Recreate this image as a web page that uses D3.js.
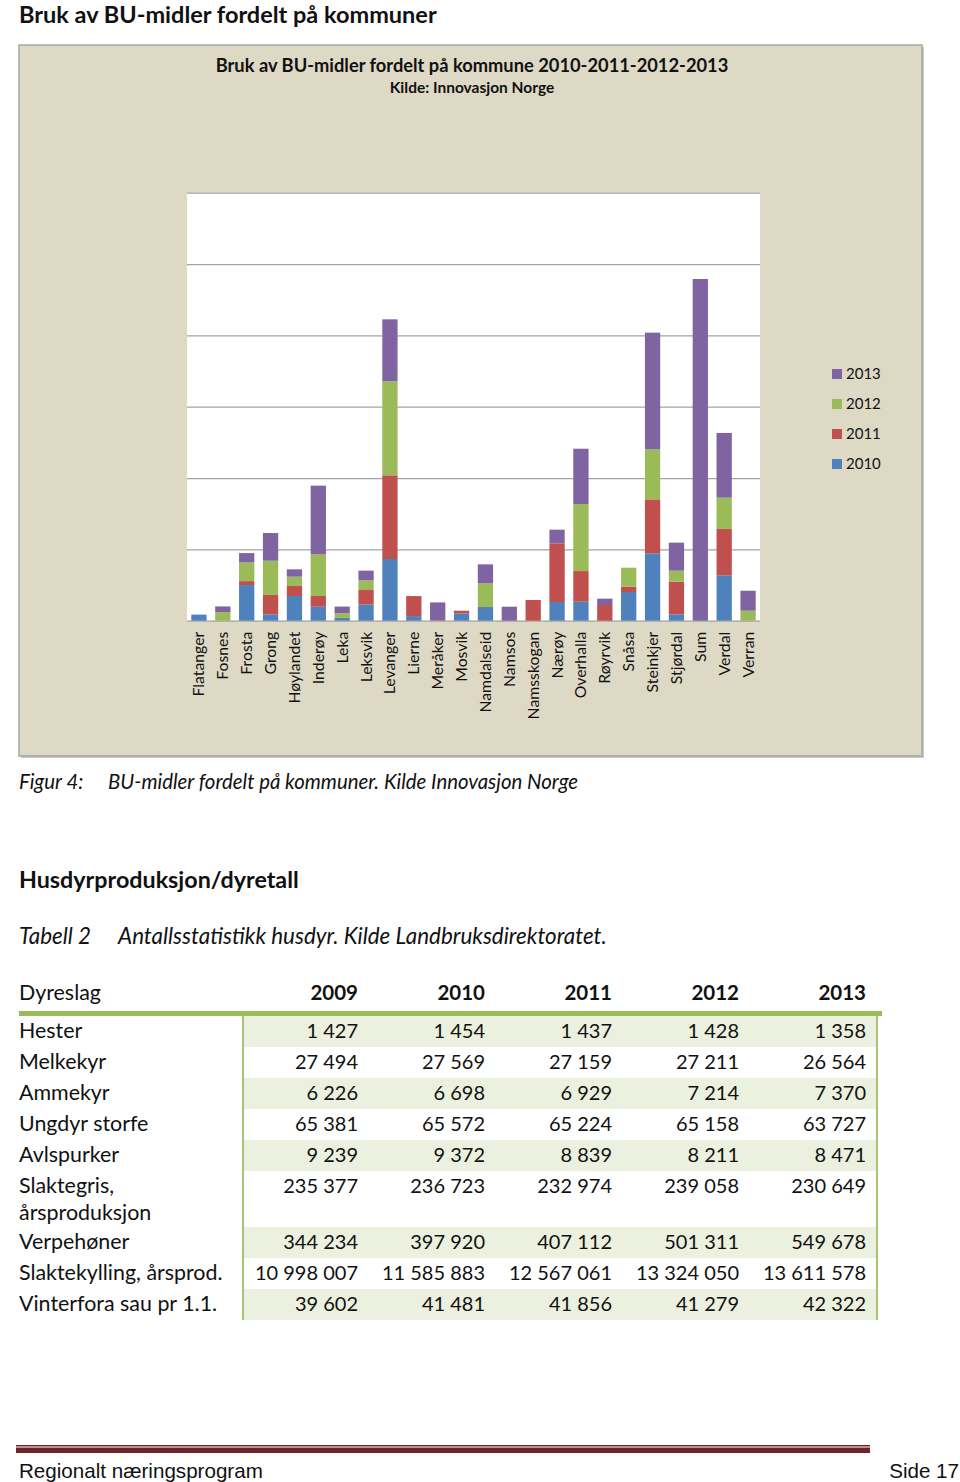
<!DOCTYPE html>
<html>
<head>
<meta charset="utf-8">
<script src="https://cdn.jsdelivr.net/npm/d3@7"></script>
<style>
  html, body { margin: 0; padding: 0; background: #fff; }
  svg { display: block; }
</style>
</head>
<body>
<div id="page"></div>
<script>
// ---------- Chart data (BU-midler, relative units) ----------
const kommuner = ["Flatanger","Fosnes","Frosta","Grong","Høylandet","Inderøy","Leka","Leksvik","Levanger","Lierne","Meråker","Mosvik","Namdalseid","Namsos","Namsskogan","Nærøy","Overhalla","Røyrvik","Snåsa","Steinkjer","Stjørdal","Sum","Verdal","Verran"];
const years = ["2010","2011","2012","2013"];
const v2010 = [85, 0, 500, 89, 346, 196, 40, 229, 865, 65, 0, 103, 192, 0, 0, 262, 266, 0, 402, 944, 89, 0, 636, 0];
const v2011 = [0, 0, 55, 271, 140, 150, 0, 201, 1173, 280, 6, 37, 0, 0, 290, 822, 430, 220, 75, 757, 458, 0, 650, 0];
const v2012 = [0, 120, 262, 481, 131, 584, 65, 136, 1318, 0, 0, 0, 332, 0, 0, 0, 939, 0, 266, 701, 154, 0, 439, 140];
const v2013 = [0, 80, 131, 388, 103, 963, 93, 136, 869, 0, 250, 0, 266, 196, 0, 192, 776, 89, 0, 1636, 393, 4790, 907, 280];
const yTicks = [0, 1000, 2000, 3000, 4000, 5000, 6000];
const seriesColors = ["#4f81bd", "#c0504d", "#9bbb59", "#8064a2"];

// ---------- Table data ----------
const tableYears = ["2009","2010","2011","2012","2013"];
const dyreslag = ["Hester","Melkekyr","Ammekyr","Ungdyr storfe","Avlspurker","Slaktegris,\nårsproduksjon","Verpehøner","Slaktekylling, årsprod.","Vinterfora sau pr 1.1."];
const t2009 = [1427, 27494, 6226, 65381, 9239, 235377, 344234, 10998007, 39602];
const t2010 = [1454, 27569, 6698, 65572, 9372, 236723, 397920, 11585883, 41481];
const t2011 = [1437, 27159, 6929, 65224, 8839, 232974, 407112, 12567061, 41856];
const t2012 = [1428, 27211, 7214, 65158, 8211, 239058, 501311, 13324050, 41279];
const t2013 = [1358, 26564, 7370, 63727, 8471, 230649, 549678, 13611578, 42322];

const W = 960, H = 1482;
const FONT = "Lato, 'Open Sans', sans-serif";

const svg = d3.select("#page").append("svg")
  .attr("width", W).attr("height", H)
  .attr("viewBox", `0 0 ${W} ${H}`)
  .style("font-family", FONT);

svg.append("rect").attr("width", W).attr("height", H).attr("fill", "#fff");

// Page heading
svg.append("text").attr("x", 19).attr("y", 23)
  .attr("font-size", 23.5).attr("font-weight", 700).attr("fill", "#111")
  .text("Bruk av BU-midler fordelt på kommuner");

// ---------- Chart frame ----------
const frame = {x: 19, y: 45, w: 903, h: 711};
svg.append("rect").attr("x", frame.x + 2).attr("y", frame.y + 2)
  .attr("width", frame.w).attr("height", frame.h).attr("fill", "#c9c9c9");
svg.append("rect").attr("x", frame.x).attr("y", frame.y)
  .attr("width", frame.w).attr("height", frame.h)
  .attr("fill", "#ddd9c4").attr("stroke", "#a6a6a6").attr("stroke-width", 1.5);

svg.append("text").attr("x", 472).attr("y", 72).attr("text-anchor", "middle")
  .attr("font-size", 18.3).attr("font-weight", 700).attr("fill", "#111")
  .text("Bruk av BU-midler fordelt på kommune 2010-2011-2012-2013");
svg.append("text").attr("x", 472).attr("y", 93).attr("text-anchor", "middle")
  .attr("font-size", 15.5).attr("font-weight", 700).attr("fill", "#111")
  .text("Kilde: Innovasjon Norge");

// plot area
const plot = {left: 187, right: 760, top: 192.7, bottom: 620.7};
svg.append("rect").attr("x", plot.left).attr("y", plot.top)
  .attr("width", plot.right - plot.left).attr("height", plot.bottom - plot.top)
  .attr("fill", "#fff");

const x = d3.scaleBand().domain(kommuner).range([plot.left, plot.right])
  .paddingInner(0.36).paddingOuter(0.18);
const y = d3.scaleLinear().domain([0, 6000]).range([plot.bottom, plot.top]);

// gridlines via axis
const gridAxis = d3.axisLeft(y).tickValues(yTicks).tickSize(-(plot.right - plot.left)).tickFormat("");
const g = svg.append("g").attr("transform", `translate(${plot.left},0)`).call(gridAxis);
g.select(".domain").remove();
g.selectAll(".tick line").attr("stroke", "#a3a3a3").attr("stroke-width", 1.3);

// stacked bars
const rows = kommuner.map((k, i) => ({k, "2010": v2010[i], "2011": v2011[i], "2012": v2012[i], "2013": v2013[i]}));
const stack = d3.stack().keys(years)(rows);
svg.append("g").selectAll("g").data(stack).join("g")
  .attr("fill", (d, i) => seriesColors[i])
  .selectAll("rect").data(d => d).join("rect")
  .attr("x", d => x(d.data.k))
  .attr("width", x.bandwidth())
  .attr("y", d => y(d[1]))
  .attr("height", d => Math.max(0, y(d[0]) - y(d[1])));

// category axis
const xAxis = d3.axisBottom(x).tickSize(0).tickPadding(0);
const xg = svg.append("g").attr("transform", `translate(0,${plot.bottom})`).call(xAxis);
xg.select(".domain").remove();
xg.selectAll(".tick text")
  .attr("transform", "translate(0,11) rotate(-90)")
  .attr("text-anchor", "end").attr("dy", "0.35em").attr("y", 0).attr("x", 0)
  .style("font-family", FONT).style("font-size", "15.8px").attr("fill", "#111");

// legend
const legendYears = years.slice().reverse();
const leg = svg.append("g");
legendYears.forEach((yr, i) => {
  const cy = 374 + i * 30;
  leg.append("rect").attr("x", 832).attr("y", cy - 5).attr("width", 10).attr("height", 10)
    .attr("fill", seriesColors[years.indexOf(yr)]);
  leg.append("text").attr("x", 846).attr("y", cy).attr("dy", "0.36em")
    .attr("font-size", 15).attr("fill", "#111").text(yr);
});

// ---------- Captions ----------
svg.append("text").attr("x", 19).attr("y", 789).attr("font-size", 20.4).attr("font-style", "italic").attr("fill", "#111").text("Figur 4:");
svg.append("text").attr("x", 108).attr("y", 789).attr("font-size", 20.4).attr("font-style", "italic").attr("fill", "#111").text("BU-midler fordelt på kommuner. Kilde Innovasjon Norge");

svg.append("text").attr("x", 19).attr("y", 888).attr("font-size", 23.3).attr("font-weight", 700).attr("fill", "#111").text("Husdyrproduksjon/dyretall");

svg.append("text").attr("x", 19).attr("y", 944).attr("font-size", 22.4).attr("font-style", "italic").attr("fill", "#111").text("Tabell 2");
svg.append("text").attr("x", 118).attr("y", 944).attr("font-size", 22.4).attr("font-style", "italic").attr("fill", "#111").text("Antallsstatistikk husdyr. Kilde Landbruksdirektoratet.");

// ---------- Table ----------
const colRight = d3.scalePoint().domain(tableYears).range([358, 866]);
const fmt = v => d3.format(",")(v).replace(/,/g, " ");
const tableCols = [t2009, t2010, t2011, t2012, t2013];
const rowTops = [1016, 1047, 1078, 1109, 1140, 1171, 1227, 1258, 1289];
const rowBottoms = [1047, 1078, 1109, 1140, 1171, 1227, 1258, 1289, 1320];
const shaded = [true, false, true, false, true, false, true, false, true];

// header
svg.append("text").attr("x", 19).attr("y", 1000).attr("font-size", 21.4).attr("fill", "#111").text("Dyreslag");
tableYears.forEach(yr => {
  svg.append("text").attr("x", colRight(yr)).attr("y", 1000).attr("text-anchor", "end")
    .attr("font-size", 20.5).attr("font-weight", 700).attr("fill", "#111").text(yr);
});

// row shading
dyreslag.forEach((lab, i) => {
  if (shaded[i]) {
    svg.append("rect").attr("x", 243).attr("y", rowTops[i]).attr("width", 634)
      .attr("height", rowBottoms[i] - rowTops[i]).attr("fill", "#ebf1de");
  }
});
// green rules
svg.append("rect").attr("x", 19).attr("y", 1011).attr("width", 863).attr("height", 5).attr("fill", "#9bbb59");
svg.append("line").attr("x1", 243).attr("x2", 243).attr("y1", 1016).attr("y2", 1320).attr("stroke", "#a9c474").attr("stroke-width", 2);
svg.append("line").attr("x1", 877).attr("x2", 877).attr("y1", 1016).attr("y2", 1320).attr("stroke", "#a9c474").attr("stroke-width", 2);

dyreslag.forEach((lab, i) => {
  const base = rowTops[i] + 22;
  const lines = lab.split("\n");
  lines.forEach((ln, j) => {
    svg.append("text").attr("x", 19).attr("y", base + j * 27).attr("font-size", 21.4).attr("fill", "#111").text(ln);
  });
  tableYears.forEach((yr, c) => {
    svg.append("text").attr("x", colRight(yr)).attr("y", base).attr("text-anchor", "end")
      .attr("font-size", 20).attr("fill", "#111").text(fmt(tableCols[c][i]));
  });
});

// ---------- Footer ----------
svg.append("rect").attr("x", 16).attr("y", 1445).attr("width", 854).attr("height", 1.5).attr("fill", "#6e2428");
svg.append("rect").attr("x", 16).attr("y", 1447.5).attr("width", 854).attr("height", 5.5).attr("fill", "#6e2428");
svg.append("text").attr("x", 19).attr("y", 1478).attr("font-family", "'Liberation Sans', Arial, sans-serif")
  .attr("font-size", 20.6).attr("fill", "#111").text("Regionalt næringsprogram");
svg.append("text").attr("x", 959).attr("y", 1478).attr("text-anchor", "end").attr("font-family", "'Liberation Sans', Arial, sans-serif")
  .attr("font-size", 20.6).attr("fill", "#111").text("Side 17");
</script>
</body>
</html>
